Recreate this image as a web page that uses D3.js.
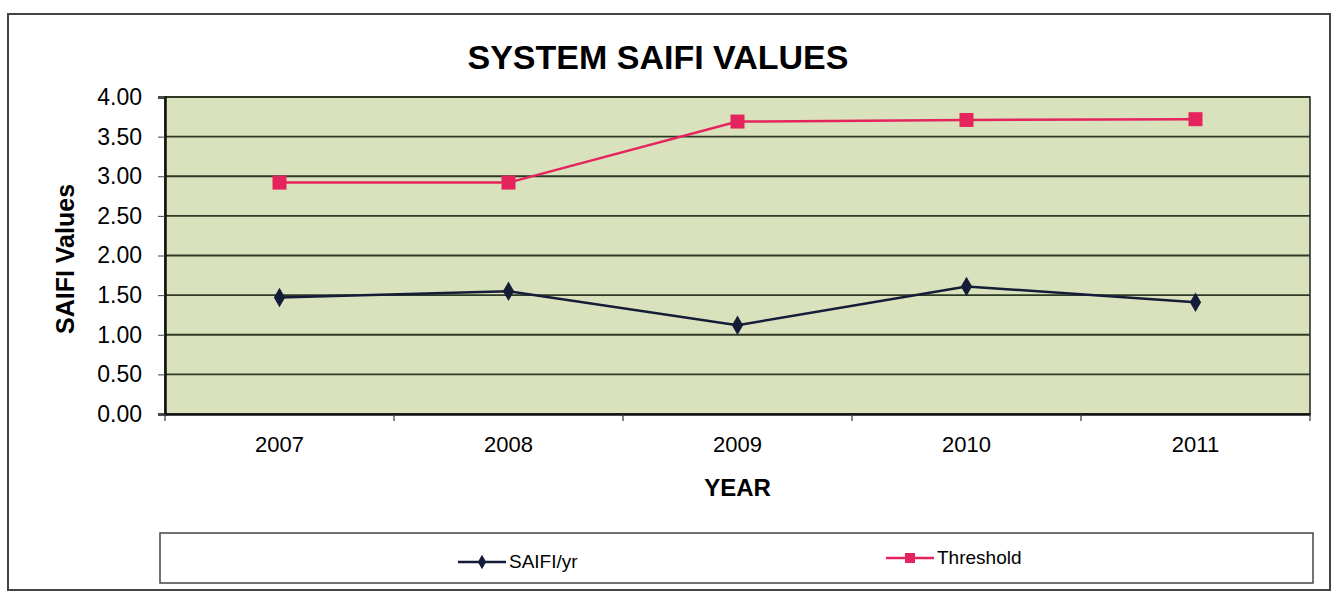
<!DOCTYPE html>
<html>
<head>
<meta charset="utf-8">
<script src="https://cdn.jsdelivr.net/npm/d3@7"></script>
<style>
  body { margin: 0; background: #fff; }
  svg { display: block; font-family: Arial, "Liberation Sans", sans-serif; }
</style>
</head>
<body>
<div id="chart"></div>
<script>
// Data
const years     = ["2007", "2008", "2009", "2010", "2011"];
const saifi     = [1.47, 1.55, 1.12, 1.61, 1.41];
const threshold = [2.92, 2.92, 3.69, 3.71, 3.72];
const yTicks    = [0, 0.5, 1, 1.5, 2, 2.5, 3, 3.5, 4];

const width  = 1333,
      height = 593;
const plot = { left: 165, top: 97, right: 1310, bottom: 414 };

const svg = d3.select("#chart")
  .append("svg")
  .attr("width", width)
  .attr("height", height);

// outer frame
svg.append("rect")
  .attr("x", 8).attr("y", 14)
  .attr("width", 1322).attr("height", 576)
  .attr("fill", "none")
  .attr("stroke", "#444")
  .attr("stroke-width", 2);

// title
svg.append("text")
  .attr("x", 658).attr("y", 69)
  .attr("text-anchor", "middle")
  .style("font-size", "34px")
  .style("font-weight", "bold")
  .text("SYSTEM SAIFI VALUES");

const x = d3.scaleBand()
  .domain(years)
  .range([plot.left, plot.right]);

const y = d3.scaleLinear()
  .domain([0, 4])
  .range([plot.bottom, plot.top]);

// plot background
svg.append("rect")
  .attr("x", plot.left).attr("y", plot.top)
  .attr("width", plot.right - plot.left)
  .attr("height", plot.bottom - plot.top)
  .attr("fill", "#d9e2bd")
  .attr("stroke", "#222")
  .attr("stroke-width", 1.5);

// gridlines
svg.append("g")
  .selectAll("line")
  .data(yTicks.filter(d => d > 0))
  .enter().append("line")
    .attr("x1", plot.left).attr("x2", plot.right)
    .attr("y1", d => y(d)).attr("y2", d => y(d))
    .attr("stroke", "#2f3a26")
    .attr("stroke-width", 1.8);

// y axis
const yAxis = svg.append("g")
  .attr("transform", "translate(" + plot.left + ",0)")
  .call(d3.axisLeft(y).tickValues(yTicks).tickFormat(d3.format(".2f")).tickSize(7).tickPadding(16));
yAxis.select(".domain").attr("stroke", "#111").attr("stroke-width", 2.5);
yAxis.selectAll(".tick line").attr("stroke", "#444").attr("x1", 0).attr("x2", -7);
yAxis.selectAll("text")
  .style("font-size", "23px")
  .attr("fill", "#000");

// x axis
const xAxis = svg.append("g")
  .attr("transform", "translate(0," + plot.bottom + ")")
  .call(d3.axisBottom(x).tickSize(0).tickPadding(22));
xAxis.select(".domain").attr("stroke", "#111").attr("stroke-width", 2.5);
xAxis.selectAll("text")
  .style("font-size", "22px")
  .attr("fill", "#000");

// category boundary ticks
svg.append("g")
  .selectAll("line")
  .data(years.concat(["end"]))
  .enter().append("line")
    .attr("x1", (d, i) => i < years.length ? x(d) : plot.right)
    .attr("x2", (d, i) => i < years.length ? x(d) : plot.right)
    .attr("y1", plot.bottom)
    .attr("y2", plot.bottom + 7)
    .attr("stroke", "#333")
    .attr("stroke-width", 1.2);

// axis titles
svg.append("text")
  .attr("transform", "translate(74,259) rotate(-90)")
  .attr("text-anchor", "middle")
  .style("font-size", "25px")
  .style("font-weight", "bold")
  .text("SAIFI Values");

svg.append("text")
  .attr("x", (plot.left + plot.right) / 2)
  .attr("y", 496)
  .attr("text-anchor", "middle")
  .style("font-size", "24px")
  .style("font-weight", "bold")
  .text("YEAR");

const cx = d => x(d) + x.bandwidth() / 2;
const line = d3.line()
  .x((d, i) => cx(years[i]))
  .y(d => y(d));

const pink = "#e5245e",
      navy = "#151c38";

// Threshold series
svg.append("path")
  .datum(threshold)
  .attr("d", line)
  .attr("fill", "none")
  .attr("stroke", pink)
  .attr("stroke-width", 2.5);

svg.append("g")
  .selectAll("rect")
  .data(threshold)
  .enter().append("rect")
    .attr("x", (d, i) => cx(years[i]) - 7)
    .attr("y", d => y(d) - 7)
    .attr("width", 14).attr("height", 14)
    .attr("fill", pink);

// SAIFI series
svg.append("path")
  .datum(saifi)
  .attr("d", line)
  .attr("fill", "none")
  .attr("stroke", navy)
  .attr("stroke-width", 2.5);

svg.append("g")
  .selectAll("path")
  .data(saifi)
  .enter().append("path")
    .attr("d", d3.symbol().type(d3.symbolDiamond).size(110))
    .attr("transform", (d, i) => "translate(" + cx(years[i]) + "," + y(d) + ")")
    .attr("fill", navy);

// legend
svg.append("rect")
  .attr("x", 160).attr("y", 533)
  .attr("width", 1153).attr("height", 50)
  .attr("fill", "#fff")
  .attr("stroke", "#444")
  .attr("stroke-width", 1.5);

const legendItems = [
  { label: "SAIFI/yr", color: navy, x: 458, y: 562, shape: "diamond" },
  { label: "Threshold", color: pink, x: 886, y: 558, shape: "square" }
];

const lg = svg.append("g")
  .selectAll("g")
  .data(legendItems)
  .enter().append("g")
    .attr("transform", d => "translate(" + d.x + "," + d.y + ")");

lg.append("line")
  .attr("x1", 0).attr("x2", 48)
  .attr("y1", 0).attr("y2", 0)
  .attr("stroke", d => d.color)
  .attr("stroke-width", 2.5);

lg.append("path")
  .attr("d", d => d.shape === "diamond"
    ? d3.symbol().type(d3.symbolDiamond).size(60)()
    : d3.symbol().type(d3.symbolSquare).size(100)())
  .attr("transform", "translate(24,0)")
  .attr("fill", d => d.color);

lg.append("text")
  .attr("x", 51)
  .attr("y", 6)
  .style("font-size", "19px")
  .text(d => d.label);
</script>
</body>
</html>
